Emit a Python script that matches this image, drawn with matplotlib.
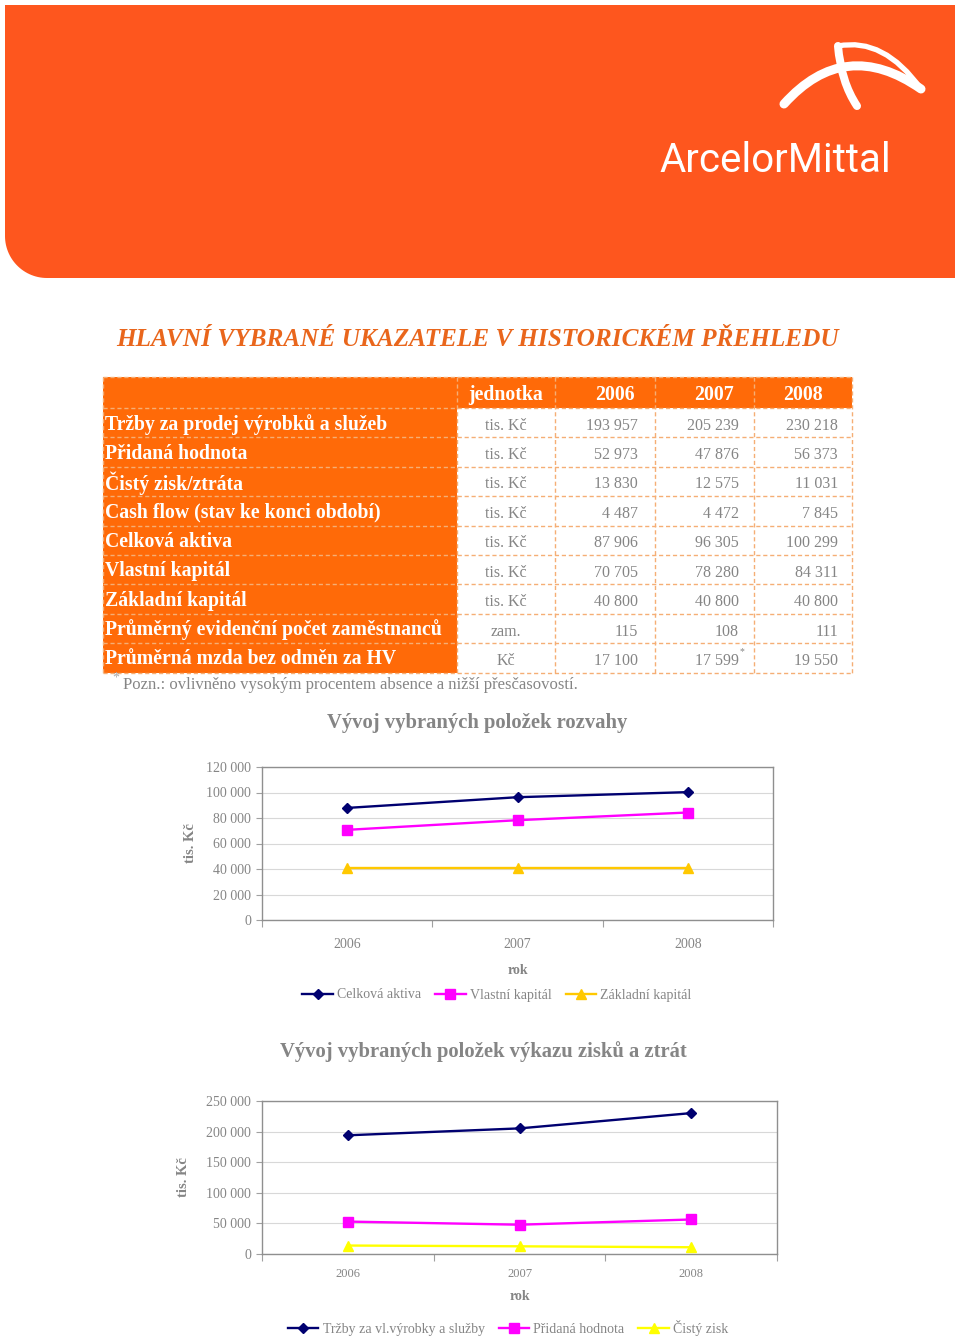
import numpy as np
import matplotlib.pyplot as plt
from matplotlib.path import Path
from matplotlib.patches import PathPatch, Polygon, Rectangle
from matplotlib.ticker import FuncFormatter, FixedLocator

# --- data ---
years = ["2006", "2007", "2008"]
row_labels = ["Tržby za prodej výrobků a služeb", "Přidaná hodnota", "Čistý zisk/ztráta",
              "Cash flow (stav ke konci období)", "Celková aktiva", "Vlastní kapitál",
              "Základní kapitál", "Průměrný evidenční počet zaměstnanců",
              "Průměrná mzda bez odměn za HV"]
units = ["tis. Kč", "tis. Kč", "tis. Kč", "tis. Kč", "tis. Kč", "tis. Kč", "tis. Kč", "zam.", "Kč"]

trzby = [193957, 205239, 230218]
pridana_hodnota = [52973, 47876, 56373]
cisty_zisk = [13830, 12575, 11031]
cash_flow = [4487, 4472, 7845]
celkova_aktiva = [87906, 96305, 100299]
vlastni_kapital = [70705, 78280, 84311]
zakladni_kapital = [40800, 40800, 40800]
zamestnanci = [115, 108, 111]
mzda = [17100, 17599, 19550]
table_rows = [trzby, pridana_hodnota, cisty_zisk, cash_flow, celkova_aktiva,
              vlastni_kapital, zakladni_kapital, zamestnanci, mzda]

W, H = 960, 1338
ORANGE_BANNER = "#FE561E"
ORANGE_TABLE = "#FF6A08"
TITLE_ORANGE = "#E9661C"
GRAY = "#858585"
DASH = "#F5AE75"
SERIF = ["Liberation Serif", "DejaVu Serif"]


def fmt(v):
    return f"{v:,.0f}".replace(",", " ")


fig = plt.figure(figsize=(W / 100, H / 100), dpi=100)
bg = fig.add_axes([0, 0, 1, 1])
bg.set_xlim(0, W)
bg.set_ylim(H, 0)
bg.axis("off")

# banner with rounded bottom-left corner
r = 42
ang = np.linspace(np.pi / 2, np.pi, 30)
arc = np.column_stack([5 + r + r * np.cos(ang), 278 - r + r * np.sin(ang)])
banner = np.vstack([[[5, 5], [955, 5], [955, 278], [5 + r, 278]], arc, [[5, 5]]])
bg.add_patch(Polygon(banner, closed=True, facecolor=ORANGE_BANNER, edgecolor="none"))

# logo swoosh
for verts, lw in [([(784, 104), (845, 36), (921, 89)], 6.5),
                  ([(838, 46), (884, 37), (921, 89)], 3.8),
                  ([(838, 46), (841, 82), (857, 106)], 5.8)]:
    p = Path(verts, [Path.MOVETO, Path.CURVE3, Path.CURVE3])
    bg.add_patch(PathPatch(p, fill=False, edgecolor="white", lw=lw, capstyle="round"))
bg.text(775, 172, "ArcelorMittal", color="white", fontsize=29, ha="center", va="baseline",
        family=["Liberation Sans Narrow", "Roboto"])

# title
bg.text(477, 340, "HLAVNÍ VYBRANÉ UKAZATELE V HISTORICKÉM PŘEHLEDU", color=TITLE_ORANGE,
        fontsize=18.2, fontweight="bold", fontstyle="italic", family=SERIF, ha="center", va="center")

# table
tx0, tx1 = 103, 852
col_edges = [103, 457, 555, 655, 754, 852]
head_top, head_bot = 377, 408
row_h = 29.4
tab_bot = head_bot + row_h * len(row_labels)
bg.add_patch(Rectangle((tx0, head_top), tx1 - tx0, head_bot - head_top, facecolor=ORANGE_TABLE, edgecolor="none"))
bg.add_patch(Rectangle((col_edges[0], head_bot), col_edges[1] - col_edges[0], tab_bot - head_bot,
                       facecolor=ORANGE_TABLE, edgecolor="none"))
for y in [head_top, head_bot] + [head_bot + row_h * (i + 1) for i in range(len(row_labels))]:
    bg.plot([tx0, tx1], [y, y], color=DASH, lw=1, ls=(0, (3, 2)))
for x in col_edges:
    bg.plot([x, x], [head_top, tab_bot], color=DASH, lw=1, ls=(0, (3, 2)))

bg.text(506, 395, "jednotka", color="white", fontsize=14.3, fontweight="bold", family=SERIF, ha="center", va="center")
for x, yr in zip([615, 714, 803], years):
    bg.text(x, 395, yr, color="white", fontsize=14.3, fontweight="bold", family=SERIF, ha="center", va="center")

for i, (lab, unit, vals) in enumerate(zip(row_labels, units, table_rows)):
    yc = head_bot + row_h * i + row_h / 2 + 1.5
    bg.text(105, yc, lab, color="white", fontsize=14.2, fontweight="bold", family=SERIF, ha="left", va="center")
    bg.text(506, yc + 1.5, unit, color=GRAY, fontsize=11.5, family=SERIF, ha="center", va="center")
    for x, v in zip([638, 739, 838], vals):
        bg.text(x, yc + 1.5, fmt(v), color=GRAY, fontsize=11.5, family=SERIF, ha="right", va="center")
bg.text(740, tab_bot - 21, "*", color=GRAY, fontsize=7, family=SERIF, ha="left", va="center")

bg.text(112, 678, "*", color="#A8A8A8", fontsize=10, family=SERIF, ha="left", va="center")
bg.text(123, 685, "Pozn.: ovlivněno vysokým procentem absence a nižší přesčasovostí.", color=GRAY,
        fontsize=12, family=SERIF, ha="left", va="center")


def px_axes(left, top, right, bottom):
    return fig.add_axes([left / W, 1 - bottom / H, (right - left) / W, (bottom - top) / H])


def line_chart(ax, series, ymax, ystep, xfs, xpad, ylab_x, rok_y, leg_xy):
    x = np.arange(len(years))
    for vals, label, color, marker, ms in series:
        ax.plot(x, vals, color=color, lw=1.7, marker=marker, ms=ms, label=label,
                markeredgecolor=color, markerfacecolor=color)
    ax.set_xlim(-0.5, len(years) - 0.5)
    ax.set_ylim(0, ymax)
    ax.yaxis.set_major_locator(FixedLocator(np.arange(0, ymax + 1, ystep)))
    ax.yaxis.set_major_formatter(FuncFormatter(lambda v, p: fmt(v)))
    ax.xaxis.set_major_locator(FixedLocator(np.arange(-0.5, len(years), 1.0)))
    ax.xaxis.set_major_formatter(FuncFormatter(lambda v, p: ""))
    ax.set_xticks(x, years, minor=True)
    ax.tick_params(axis="x", which="major", length=5, color="#A0A0A0", direction="out")
    ax.tick_params(axis="x", which="minor", length=0, pad=xpad, labelsize=xfs, labelcolor=GRAY)
    ax.tick_params(axis="y", length=4, color="#A0A0A0", labelsize=10, labelcolor=GRAY, pad=4)
    for lbl in ax.get_xticklabels(minor=True) + ax.get_yticklabels():
        lbl.set_family(SERIF)
    ax.grid(axis="y", color="#D8D8D8", lw=0.8)
    ax.set_axisbelow(True)
    for s in ax.spines.values():
        s.set_color("#8F8F8F")
        s.set_linewidth(1)
    ax.set_ylabel("tis. Kč", color=GRAY, fontsize=10.5, fontweight="bold", family=SERIF)
    ax.yaxis.set_label_coords(ylab_x, 0.5)
    ax.text(0.5, rok_y, "rok", transform=ax.transAxes, color=GRAY, fontsize=10, fontweight="bold",
            family=SERIF, ha="center", va="center")
    ax.legend(loc="center", bbox_to_anchor=(leg_xy[0] / W, 1 - leg_xy[1] / H), bbox_transform=fig.transFigure,
              ncol=3, frameon=False, handlelength=2.2, handletextpad=0.3, columnspacing=1.0,
              labelcolor=GRAY, prop={"family": SERIF, "size": 10})


# chart 1
bg.text(477, 723, "Vývoj vybraných položek rozvahy", color=GRAY, fontsize=14.9, fontweight="bold",
        family=SERIF, ha="center", va="center")
ax1 = px_axes(262, 767, 773, 920)
line_chart(ax1, [(celkova_aktiva, "Celková aktiva", "#000070", "D", 5.5),
                 (vlastni_kapital, "Vlastní kapitál", "#FF00FF", "s", 6.5),
                 (zakladni_kapital, "Základní kapitál", "#FFC800", "^", 7)],
           120000, 20000, 10, 13, -0.127, (920 - 971) / 153, (497, 995))

# chart 2
bg.text(483, 1052, "Vývoj vybraných položek výkazu zisků a ztrát", color=GRAY, fontsize=14.9,
        fontweight="bold", family=SERIF, ha="center", va="center")
ax2 = px_axes(262, 1101, 777, 1254)
line_chart(ax2, [(trzby, "Tržby za vl.výrobky a služby", "#000070", "D", 5.5),
                 (pridana_hodnota, "Přidaná hodnota", "#FF00FF", "s", 6.5),
                 (cisty_zisk, "Čistý zisk", "#FFFF00", "^", 7)],
           250000, 50000, 9, 10, -0.14, (1254 - 1297) / 153, (508, 1328))

fig.savefig("out.png", dpi=100)
